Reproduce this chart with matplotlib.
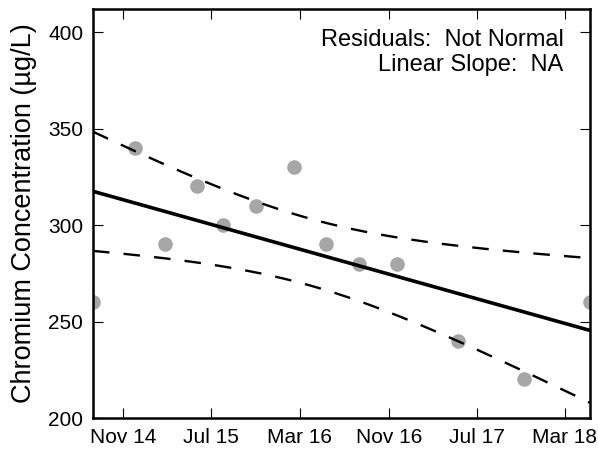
import matplotlib
matplotlib.use('Agg')
import matplotlib.pyplot as plt
import matplotlib.dates as mdates
import numpy as np

plt.rcParams['font.family'] = ['Liberation Sans', 'DejaVu Sans']

# sample dates and chromium results (ug/L)
dates = ['2014-08-10', '2014-12-04', '2015-02-25', '2015-05-24', '2015-08-04',
         '2015-11-03', '2016-02-15', '2016-05-11', '2016-08-10', '2016-11-23',
         '2017-05-11', '2017-11-08', '2018-05-09']
conc = [260, 340, 290, 320, 300, 310, 330, 290, 280, 280, 240, 220, 260]

tick_dates = ['2014-11-01', '2015-07-01', '2016-03-01', '2016-11-01',
              '2017-07-01', '2018-03-01']
tick_labels = ['Nov 14', 'Jul 15', 'Mar 16', 'Nov 16', 'Jul 17', 'Mar 18']
y_ticks = [200, 250, 300, 350, 400]

t = np.array(dates, dtype='datetime64[D]')
y = np.array(conc, dtype=float)
x = mdates.date2num(t)

# ordinary least squares fit + 95% confidence band of the mean
n = len(x)
xm = x.mean()
sxx = np.sum((x - xm)**2)
slope = np.sum((x - xm)*(y - y.mean())) / sxx
icpt = y.mean() - slope*xm
resid = y - (icpt + slope*x)
s = np.sqrt(np.sum(resid**2)/(n - 2))
tval = 2.201  # t(0.975, df=11)

xf = np.linspace(x.min(), x.max(), 200)
yf = icpt + slope*xf
half = tval*s*np.sqrt(1.0/n + (xf - xm)**2/sxx)

fig = plt.figure(figsize=(5.98, 4.51), dpi=100)
ax = fig.add_axes([93/598, 1-418/451, (590-93)/598, (418-9)/451])

ax.plot(t, y, 'o', color='#a6a6a6', markersize=10.5, markeredgewidth=0, zorder=2)
ax.plot(mdates.num2date(xf), yf, 'k-', lw=2.6, zorder=3)
ax.plot(mdates.num2date(xf), yf + half, 'k--', lw=1.7, dashes=(7, 6), zorder=3)
ax.plot(mdates.num2date(xf), yf - half, 'k--', lw=1.7, dashes=(7, 6), zorder=3)

ax.set_xlim(x.min(), x.max())
ax.set_ylim(200, 412)
ax.set_xticks(mdates.date2num(np.array(tick_dates, dtype='datetime64[D]')))
ax.set_xticklabels(tick_labels)
ax.set_yticks(y_ticks)

ax.tick_params(direction='in', length=7, width=0.8, labelsize=15,
               top=True, right=True, pad=7)
for sp in ax.spines.values():
    sp.set_linewidth(1.8)

ax.set_ylabel('Chromium Concentration (\u00b5g/L)', fontsize=19.5, labelpad=8)

ax.text(0.947, 0.95, 'Residuals:  Not Normal\nLinear Slope:  NA',
        transform=ax.transAxes, ha='right', va='top', fontsize=17,
        multialignment='right', linespacing=1.15)

fig.savefig('out.png', dpi=100)
